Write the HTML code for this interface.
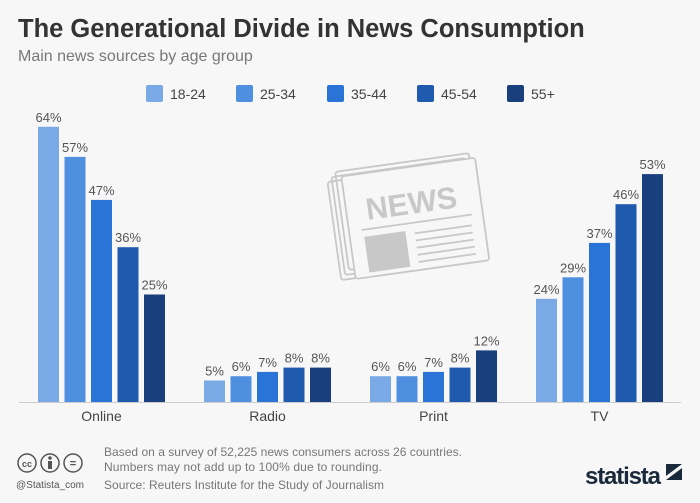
<!DOCTYPE html>
<html><head><meta charset="utf-8"><style>
body{margin:0;width:700px;height:498px;background:#f7f7f7;font-family:"Liberation Sans",sans-serif;overflow:hidden}
</style></head><body>
<svg width="700" height="498" xmlns="http://www.w3.org/2000/svg">
<text x="18" y="37" font-size="25.5" font-weight="bold" fill="#333">The Generational Divide in News Consumption</text>
<text x="18" y="61" font-size="16" fill="#777">Main news sources by age group</text>
<g id="legend"></g>
<g transform="translate(408 218) scale(0.9) rotate(-8) translate(-413 -222)" fill="none" stroke="#c8c8c8" stroke-width="2">
<rect x="330" y="170" width="150" height="110" rx="3"/>
<rect x="335" y="165" width="150" height="110" rx="3"/>
<rect x="340" y="160" width="150" height="110" rx="3"/>
<rect x="346" y="166" width="150" height="115" rx="3" fill="#f7f7f7"/>
<text x="368" y="218" font-size="34" font-weight="bold" fill="#c8c8c8" stroke="none">NEWS</text>
<line x1="360" y1="228" x2="484" y2="228"/>
<rect x="362" y="236" width="46" height="40" fill="#c8c8c8" stroke="none"/>
<line x1="418" y1="240" x2="482" y2="240"/><line x1="418" y1="248" x2="482" y2="248"/><line x1="418" y1="256" x2="482" y2="256"/><line x1="418" y1="264" x2="482" y2="264"/><line x1="418" y1="272" x2="482" y2="272"/>
</g>
<line x1="19" y1="402.5" x2="681" y2="402.5" stroke="#ccc" stroke-width="1"/>
<g id="bars"></g>
<g fill="none" stroke="#555" stroke-width="1.5">
<circle cx="27" cy="463" r="9"/><circle cx="50" cy="463" r="9"/><circle cx="73" cy="463" r="9"/>
<text x="27" y="467" font-size="9" fill="#555" stroke="none" text-anchor="middle" font-weight="bold">cc</text>
<circle cx="50" cy="458" r="1.8" fill="#555" stroke="none"/><rect x="48" y="461" width="4" height="8" fill="#555" stroke="none"/>
<text x="73" y="467" font-size="11" fill="#555" stroke="none" text-anchor="middle" font-weight="bold">=</text>
</g>
<text x="16" y="488" font-size="10" fill="#555">@Statista_com</text>
<g font-size="12" fill="#777">
<text x="104" y="456" textLength="358">Based on a survey of 52,225 news consumers across 26 countries.</text>
<text x="104" y="471" textLength="278">Numbers may not add up to 100% due to rounding.</text>
<text x="104" y="489" textLength="280">Source: Reuters Institute for the Study of Journalism</text>
</g>
<text x="585" y="484" font-size="24" font-weight="bold" fill="#1a2a3a" textLength="76">statista</text>
<polygon points="666,464 682,464 666,476" fill="#1a2a3a"/><polygon points="682,468 682,480 666,480" fill="#1a2a3a"/>
</svg>
<script>
const categories=["Online","Radio","Print","TV"];
const groups=["18-24","25-34","35-44","45-54","55+"];
const s1824=[64,5,6,24];
const s2534=[57,6,6,29];
const s3544=[47,7,7,37];
const s4554=[36,8,8,46];
const s55=[25,8,12,53];
const series=[s1824,s2534,s3544,s4554,s55];
const colors=["#7aaae6","#4f8fe0","#2a74d8","#1f5aaf","#1a3f7d"];
const NS="http://www.w3.org/2000/svg";
const base=402, scale=4.3, g0=38, gstep=166, bstep=26.5, bw=21;
const yPos=v=>base-v*scale;
const bars=document.getElementById('bars');
function mk(t,a){const e=document.createElementNS(NS,t);for(const k in a)e.setAttribute(k,a[k]);return e;}
categories.forEach((c,ci)=>{
  series.forEach((s,si)=>{
    const x=g0+ci*gstep+si*bstep, y=yPos(s[ci]);
    const r=mk('rect',{x:x,y:y,width:bw,height:base-y,fill:colors[si]});
    
    
    bars.appendChild(r);
    const t=mk('text',{x:x+bw/2,y:y-5,'font-size':13,fill:'#555','text-anchor':'middle'});
    t.textContent=s[ci]+'%';
    
    
    bars.appendChild(t);
  });
  const l=mk('text',{x:g0+ci*gstep+2*bstep+bw/2,y:421,'font-size':14,fill:'#444','text-anchor':'middle'});
  l.textContent=c;
  
  
  bars.appendChild(l);
});
const lg=document.getElementById('legend');
const lx=[146,236,327,417,507];
groups.forEach((g,i)=>{
  const r=mk('rect',{x:lx[i],y:85,width:17,height:17,rx:2,fill:colors[i]});
  
  
  lg.appendChild(r);
  const t=mk('text',{x:lx[i]+24,y:99,'font-size':14,fill:'#444'});
  t.textContent=g;
  
  
  lg.appendChild(t);
});
</script>
</body></html>
